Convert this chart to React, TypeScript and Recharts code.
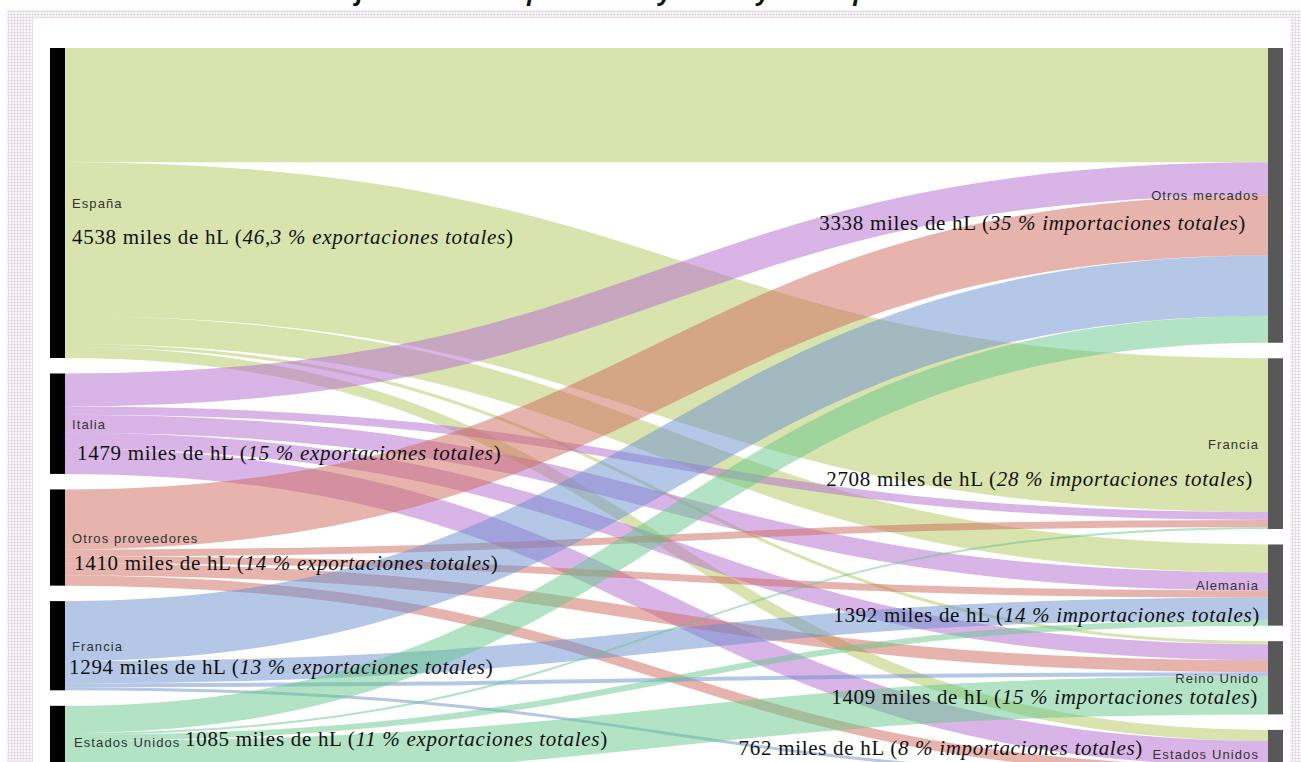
import { Sankey } from 'recharts';

const exporters = ['España', 'Italia', 'Otros proveedores', 'Francia', 'Estados Unidos'];
const importers = ['Otros mercados', 'Francia', 'Alemania', 'Reino Unido', 'Estados Unidos'];

const exporterVolumes = [4538, 1479, 1410, 1294, 1085];
const exporterShares = ['46,3', '15', '14', '13', '11'];
const importerVolumes = [3338, 2708, 1392, 1409, 762];
const importerShares = ['35', '28', '14', '15', '8'];

// miles de hL per exporter, one value per importer (same order as importers)
const flowsEspana = [1675, 2250, 410, 45, 160];
const flowsItalia = [485, 118, 265, 235, 368];
const flowsOtros = [880, 103, 103, 176, 147];
const flowsFrancia = [880, 0, 323, 59, 44];
const flowsEEUU = [397, 29, 88, 558, 0];

const flows = [flowsEspana, flowsItalia, flowsOtros, flowsFrancia, flowsEEUU];

const linkColors = ['#b2c85e', '#b36bd0', '#d06a5c', '#6a90d0', '#66c88c'];

// label placement relative to node centre
const leftLabels = [
    { valueDy: 41, valueX: 72 },
    { valueDy: 36, valueX: 77 },
    { valueDy: 32, valueX: 74 },
    { valueDy: 28, valueX: 69 },
    { valueDy: 4, valueX: 185 },
];
const rightLabels = [
    { valueDy: 35, valueEnd: 1246 },
    { valueDy: 42, valueEnd: 1253 },
    { valueDy: 37, valueEnd: 1260 },
    { valueDy: 26, valueEnd: 1258 },
    { valueDy: 1, valueEnd: 1143 },
];

const nodes = [
    ...exporters.map((name, i) => ({ name, side: 'left', volume: exporterVolumes[i], share: exporterShares[i], idx: i })),
    ...importers.map((name, i) => ({ name, side: 'right', volume: importerVolumes[i], share: importerShares[i], idx: i })),
];

const links: { source: number; target: number; value: number }[] = [];
flows.forEach((row, s) => {
    row.forEach((v, t) => {
        if (v > 0) links.push({ source: s, target: exporters.length + t, value: v });
    });
});

const sansFont = '"Liberation Sans", Arial, sans-serif';
const serifFont = '"Liberation Serif", "Times New Roman", serif';

const SankeyNode = (props: any) => {
    const { x, y, width, height, payload } = props;
    const cy = y + height / 2;
    const isLeft = payload.side === 'left';
    const i = payload.idx;

    if (isLeft) {
        const lay = leftLabels[i];
        return (
            <g>
                <rect x={x} y={y} width={width} height={height} fill="#000" />
                <text x={i === 4 ? 74 : 72} y={cy + 5} fontFamily={sansFont} fontSize={13} letterSpacing={1.1} fill="#333">
                    {payload.name}
                </text>
                <text x={lay.valueX} y={cy + lay.valueDy} fontFamily={serifFont} fontSize={21} letterSpacing={0.7} fill="#111">
                    {payload.volume} miles de hL (<tspan fontStyle="italic">{payload.share} % exportaciones totales</tspan>)
                </text>
            </g>
        );
    }

    const lay = rightLabels[i];
    return (
        <g>
            <rect x={x} y={y} width={width} height={height} fill="#585858" />
            <text x={1259} y={cy + 5} textAnchor="end" fontFamily={sansFont} fontSize={13} letterSpacing={1.1} fill="#333">
                {payload.name}
            </text>
            <text x={lay.valueEnd} y={cy + lay.valueDy} textAnchor="end" fontFamily={serifFont} fontSize={21} letterSpacing={0.7} fill="#111">
                {payload.volume} miles de hL (<tspan fontStyle="italic">{payload.share} % importaciones totales</tspan>)
            </text>
        </g>
    );
};

const SankeyLink = (props: any) => {
    const { sourceX, targetX, sourceY, targetY, sourceControlX, targetControlX, linkWidth, payload } = props;
    const color = linkColors[payload.source.idx];
    return (
        <path
            d={`M${sourceX},${sourceY} C${sourceControlX},${sourceY} ${targetControlX},${targetY} ${targetX},${targetY}`}
            fill="none"
            stroke={color}
            strokeWidth={linkWidth}
            strokeOpacity={0.5}
        />
    );
};

export default function App() {
    return (
        <div style={{ position: 'fixed', left: 0, top: 0, width: 1301, height: 762, overflow: 'hidden', background: '#fff' }}>
            <div
                style={{
                    position: 'absolute',
                    left: 0,
                    right: 0,
                    top: -22,
                    textAlign: 'center',
                    fontFamily: '"Open Sans", sans-serif',
                    fontStyle: 'italic',
                    fontWeight: 700,
                    fontSize: 24,
                    lineHeight: '26px',
                    color: '#111',
                }}
            >
                Flujos entre los exportadores y sus mayores importadores
            </div>
            <div
                style={{
                    position: 'absolute',
                    left: 7,
                    top: 10,
                    width: 1294,
                    height: 800,
                    background: 'radial-gradient(#e8dce8 1px, transparent 1.2px) 0 0 / 3px 3px, #faf8fa',
                }}
            />
            <div style={{ position: 'absolute', left: 33, top: 18, width: 1257, height: 800, background: '#fff' }} />
            <div style={{ position: 'absolute', left: 0, top: 0 }}>
                <Sankey
                    width={1301}
                    height={779}
                    data={{ nodes, links }}
                    nodeWidth={15}
                    nodePadding={15.5}
                    iterations={0}
                    margin={{ top: 48, right: 18, bottom: 0, left: 50 }}
                    node={<SankeyNode />}
                    link={<SankeyLink />}
                />
            </div>
        </div>
    );
}
